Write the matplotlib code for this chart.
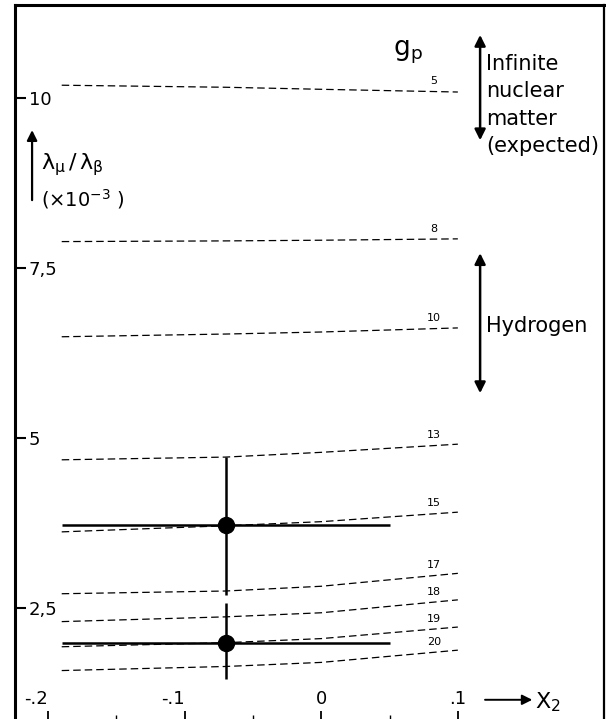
import matplotlib
matplotlib.use("Agg")
import matplotlib.pyplot as plt
import numpy as np

plt.rcParams['font.family'] = ['DejaVu Sans']
plt.rcParams['mathtext.fontset'] = 'dejavusans'

# ---- data ----
x_curve = [-0.19, -0.07, 0.0, 0.10]
gp_labels = ['5', '8', '10', '13', '15', '17', '18', '19', '20']
gp5 = [10.19, 10.16, 10.13, 10.09]
gp8 = [7.89, 7.90, 7.91, 7.93]
gp10 = [6.49, 6.53, 6.56, 6.62]
gp13 = [4.68, 4.72, 4.79, 4.91]
gp15 = [3.62, 3.71, 3.77, 3.91]
gp17 = [2.71, 2.75, 2.82, 3.01]
gp18 = [2.30, 2.37, 2.43, 2.62]
gp19 = [1.93, 1.99, 2.05, 2.22]
gp20 = [1.58, 1.64, 1.70, 1.88]
curves = [gp5, gp8, gp10, gp13, gp15, gp17, gp18, gp19, gp20]

pt_x = [-0.07, -0.07]
pt_y = [3.72, 1.99]
pt_yerr_lo = [1.03, 0.53]
pt_yerr_hi = [1.00, 0.59]
pt_xerr = [0.12, 0.12]

infinite_range = [9.38, 10.93]
hydrogen_range = [5.66, 7.72]

xticks = [-0.2, -0.1, 0.0, 0.1]
xticklabels = ['-.2', '-.1', '0', '.1']
xminor = [-0.15, -0.05, 0.05]
yticks = [2.5, 5, 7.5, 10]
yticklabels = ['2,5', '5', '7,5', '10']

# ---- figure ----
W, H = 606, 719
fig = plt.figure(figsize=(W / 100, H / 100), dpi=100)
left_px, right_px, top_px, bot_px = 15, 604, 5, 721
ax = fig.add_axes([left_px / W, (H - bot_px) / H,
                   (right_px - left_px) / W, (bot_px - top_px) / H])
ax.set_xlim(-0.2242, 0.2070)
ax.set_ylim(0.838, 11.37)

for v in ['left', 'top']:
    ax.spines[v].set_linewidth(2.2)
ax.spines['right'].set_linewidth(1.6)
ax.spines['bottom'].set_linewidth(1.6)

ax.set_xticks(xticks)
ax.set_xticklabels(xticklabels)
ax.set_xticks(xminor, minor=True)
ax.set_yticks(yticks)
ax.set_yticklabels(yticklabels)
ax.tick_params(axis='x', which='major', direction='in', length=7, width=1.3,
               pad=-22, labelsize=13)
ax.tick_params(axis='x', which='minor', direction='in', length=4, width=1.0)
ax.tick_params(axis='y', which='major', direction='in', length=8, width=1.5,
               pad=-10, labelsize=13)
for lab in ax.get_yticklabels():
    lab.set_horizontalalignment('left')
for lab in ax.get_xticklabels()[:2]:
    lab.set_horizontalalignment('right')

# dashed theory curves
for vals, lab in zip(curves, gp_labels):
    ax.plot(x_curve, vals, color='black', lw=0.9, ls=(0, (6, 3.2)))
    yl = np.interp(0.0826, x_curve, vals)
    ax.annotate(lab, (0.0826, yl), xytext=(0, 7.5), textcoords='offset points',
                ha='center', va='center', fontsize=8)

# data points
ax.errorbar(pt_x, pt_y, yerr=[pt_yerr_lo, pt_yerr_hi], xerr=pt_xerr,
            fmt='o', color='black', ms=11.5, elinewidth=1.8, capsize=0)

# g_p header
ax.text(0.0635, 10.68, r'$\mathregular{g_p}$', fontsize=19, ha='center', va='center')

# right-side arrows and texts
ax.annotate('', xy=(0.1163, infinite_range[1]), xytext=(0.1163, infinite_range[0]),
            arrowprops=dict(arrowstyle='<|-|>', color='black', lw=1.8,
                            mutation_scale=16, shrinkA=0, shrinkB=0))
ax.text(0.1206, 9.90, 'Infinite\nnuclear\nmatter\n(expected)', fontsize=15,
        ha='left', va='center', linespacing=1.47)
ax.annotate('', xy=(0.1163, hydrogen_range[1]), xytext=(0.1163, hydrogen_range[0]),
            arrowprops=dict(arrowstyle='<|-|>', color='black', lw=1.8,
                            mutation_scale=16, shrinkA=0, shrinkB=0))
ax.text(0.1206, 6.65, 'Hydrogen', fontsize=15, ha='left', va='center')

# y-axis label with arrow
ax.annotate('', xy=(-0.2117, 9.53), xytext=(-0.2117, 8.5),
            arrowprops=dict(arrowstyle='-|>', color='black', lw=1.6,
                            mutation_scale=15, shrinkA=0, shrinkB=0),
            annotation_clip=False)
ax.text(-0.2048, 9.02, r'$\mathrm{\lambda_\mu\,/\,\lambda_\beta}$', fontsize=16,
        ha='left', va='center')
ax.text(-0.2048, 8.52, r'$(\times10^{-3}\ )$', fontsize=14, ha='left', va='center')

# x-axis label with arrow
ax.annotate('', xy=(0.1545, 1.15), xytext=(0.1199, 1.15),
            arrowprops=dict(arrowstyle='-|>', color='black', lw=1.4,
                            mutation_scale=15, shrinkA=0, shrinkB=0))
ax.text(0.1565, 1.12, r'$\mathregular{X_2}$', fontsize=16, ha='left', va='center')

fig.savefig('out.png', dpi=100)
